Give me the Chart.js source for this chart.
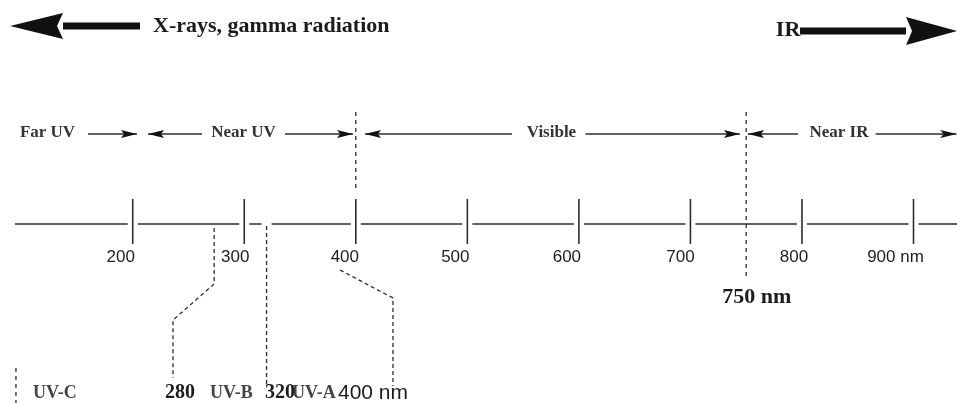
<!DOCTYPE html>
<html>
<head>
<meta charset="utf-8">
<script src="https://cdn.jsdelivr.net/npm/chart.js@4.4.1/dist/chart.umd.min.js"></script>
<style>
  html, body { margin: 0; padding: 0; background: #fff; }
  #wrap { width: 957px; height: 403px; }
</style>
</head>
<body>
<div id="wrap"><canvas id="spectrum"></canvas></div>
<script>
// values (wavelengths in nm)
const ticks = [200, 300, 400, 500, 600, 700, 800, 900];
const tickLabels = ['200', '300', '400', '500', '600', '700', '800', '900 nm'];
const regionNames = ['Far UV', 'Near UV', 'Visible', 'Near IR'];
const regionEdges = [400, 750];
const edgeLabel = '750 nm';
const uvBands = ['UV-C', 'UV-B', 'UV-A'];
const uvEdges = [280, 320, 400];
const uvEdgeLabels = ['280', '320', '400 nm'];
const outerLabels = ['X-rays, gamma radiation', 'IR'];

// layout: x in nm, y in rows of the 403px picture
const L = {
  xMin: 81, xMax: 939,
  axisY: 224, axisStart: 94.4, gap: 4.5,
  tickTop: 199, tickBottom: 244,
  tickLabelY: 257, tickLabelShift: [-12, -9, -11, -12, -12, -10, -8, -18],
  regionY: 133, arrowY: 134,
  regionCenters: [123.6, 299.3, 575.4, 833.2],
  regionArrows: [
    [[159.9, 203.8]],
    [[262.1, 213.7], [336.5, 397.5]],
    [[540, 408.2], [606, 744.4]],
    [[796.5, 751.6], [866, 938.5]]
  ],
  edgeTop: 112, edgeBottom: [192, 279],
  edgeLabelY: 297, edgeLabelShift: -24,
  // the source draws the 280 leader a little left of its tick position
  leaderShift: [-7, 0, 0],
  leaders: [
    [[0, 228], [0, 284], [-36.9, 320], [-36.9, 378]],
    [[0, 226], [0, 384]],
    [[-14.2, 270], [33.3, 298], [33.3, 386]]
  ],
  uvcMark: [[95.3, 368], [95.3, 403]],
  bottomY: 393,
  uvBandX: [110.6, 269.3, 342.8],
  uvEdgeLabelX: [228.9, 318.6, 384.0],
  outerArrows: [
    { from: 206.5, base: 137.5, y: 26, len: 53, half: 13, dir: 180 },
    { from: 798.2, base: 893.3, y: 31, len: 51, half: 14, dir: 0 }
  ],
  outerLabelX: [218.2, 798.5], outerLabelY: [26, 30]
};

const INK = '#1c1c1c';
const LINE = '#2e2e2e';
const SERIF = '"Liberation Serif", "DejaVu Serif", serif';
const SANS = '"Liberation Sans", Arial, sans-serif';

// arrowhead images, pointing right
function makeHead(len, half, notch, tipAtCenter) {
  const c = document.createElement('canvas');
  c.width = len * 2;
  c.height = half * 2;
  const g = c.getContext('2d');
  const x0 = tipAtCenter ? 0 : len;
  g.fillStyle = '#111';
  g.beginPath();
  g.moveTo(x0 + len, half);
  g.lineTo(x0, 0);
  g.lineTo(x0 + notch, half);
  g.lineTo(x0, half * 2);
  g.closePath();
  g.fill();
  return c;
}
const smallHead = makeHead(16, 4, 3, true);

// join several paths into one dataset, broken by null points
function paths(list) {
  const d = [];
  list.forEach((p, i) => {
    if (i) d.push({ x: p[0][0], y: null });
    p.forEach(pt => d.push({ x: pt[0], y: pt[1] }));
  });
  return d;
}

// base line, broken at each tick and at 320
const breaks = ticks.concat([320]).sort((a, b) => a - b);
const axisPaths = [];
let start = L.axisStart;
breaks.forEach(b => {
  axisPaths.push([[start, L.axisY], [b - L.gap, L.axisY]]);
  start = b + L.gap;
});
axisPaths.push([[start, L.axisY], [L.xMax, L.axisY]]);

// leaders hang from the UV band edges
const leaderPaths = uvEdges.map((e, i) =>
  L.leaders[i].map(p => [e + L.leaderShift[i] + p[0], p[1]]));

const datasets = [];
function lineSet(data, width, dash) {
  datasets.push({
    data: data, showLine: true, borderColor: LINE, borderWidth: width,
    borderDash: dash || [], pointRadius: 0, borderCapStyle: 'butt'
  });
}

lineSet(paths(axisPaths), 1.5);
lineSet(paths(ticks.map(t => [[t, L.tickTop], [t, L.tickBottom]])), 1.6);
lineSet(paths(regionEdges.map((e, i) => [[e, L.edgeTop], [e, L.edgeBottom[i]]])), 1.3, [4, 4]);
lineSet(paths(leaderPaths), 1.3, [4, 3]);
lineSet(paths([L.uvcMark]), 1.3, [4, 4]);

// region arrows
L.regionArrows.forEach(arrows => {
  arrows.forEach(a => {
    datasets.push({
      data: [{ x: a[0], y: L.arrowY }, { x: a[1], y: L.arrowY }],
      showLine: true, borderColor: LINE, borderWidth: 1.5,
      pointRadius: [0, 2], pointStyle: smallHead,
      pointRotation: a[1] > a[0] ? 0 : 180
    });
  });
});

// big arrows at the top
L.outerArrows.forEach(a => {
  datasets.push({
    data: [{ x: a.from, y: a.y }, { x: a.base, y: a.y }],
    showLine: true, borderColor: '#111', borderWidth: 7, borderCapStyle: 'butt',
    pointRadius: [0, 2], pointStyle: makeHead(a.len, a.half, 6, false),
    pointRotation: a.dir
  });
});

// every text item
const texts = [];
outerLabels.forEach((t, i) => texts.push({
  text: t, x: L.outerLabelX[i], y: L.outerLabelY[i], align: i ? 'right' : 'left',
  font: 'bold 22px ' + SERIF, color: INK
}));
regionNames.forEach((t, i) => texts.push({
  text: t, x: L.regionCenters[i], y: L.regionY, align: 'center',
  font: 'bold 17px ' + SERIF, color: '#333'
}));
tickLabels.forEach((t, i) => texts.push({
  text: t, x: ticks[i], dx: L.tickLabelShift[i], y: L.tickLabelY, align: 'center',
  font: '17px ' + SANS, color: INK
}));
texts.push({
  text: edgeLabel, x: regionEdges[1], dx: L.edgeLabelShift, y: L.edgeLabelY, align: 'left',
  font: 'bold 22px ' + SERIF, color: INK
});
uvBands.forEach((t, i) => texts.push({
  text: t, x: L.uvBandX[i], y: L.bottomY, align: 'left',
  font: 'bold 18px ' + SERIF, color: '#444'
}));
uvEdgeLabels.forEach((t, i) => texts.push({
  text: t, x: L.uvEdgeLabelX[i], y: L.bottomY, align: 'left',
  font: i < 2 ? 'bold 20px ' + SERIF : '21px ' + SANS, color: INK
}));

const textPlugin = {
  id: 'spectrumText',
  afterDatasetsDraw(chart) {
    const ctx = chart.ctx;
    const x = chart.scales.x, y = chart.scales.y;
    ctx.save();
    ctx.textBaseline = 'middle';
    texts.forEach(t => {
      ctx.font = t.font;
      ctx.fillStyle = t.color;
      ctx.textAlign = t.align;
      ctx.fillText(t.text, x.getPixelForValue(t.x) + (t.dx || 0), y.getPixelForValue(t.y));
    });
    ctx.restore();
  }
};

new Chart(document.getElementById('spectrum'), {
  type: 'scatter',
  data: { datasets: datasets },
  options: {
    responsive: true,
    maintainAspectRatio: false,
    animation: false,
    events: [],
    layout: { padding: 0, autoPadding: false },
    plugins: { legend: { display: false }, tooltip: { enabled: false } },
    scales: {
      x: { type: 'linear', min: L.xMin, max: L.xMax, display: false },
      y: { type: 'linear', min: 0, max: 403, reverse: true, display: false }
    }
  },
  plugins: [textPlugin]
});
</script>
</body>
</html>
